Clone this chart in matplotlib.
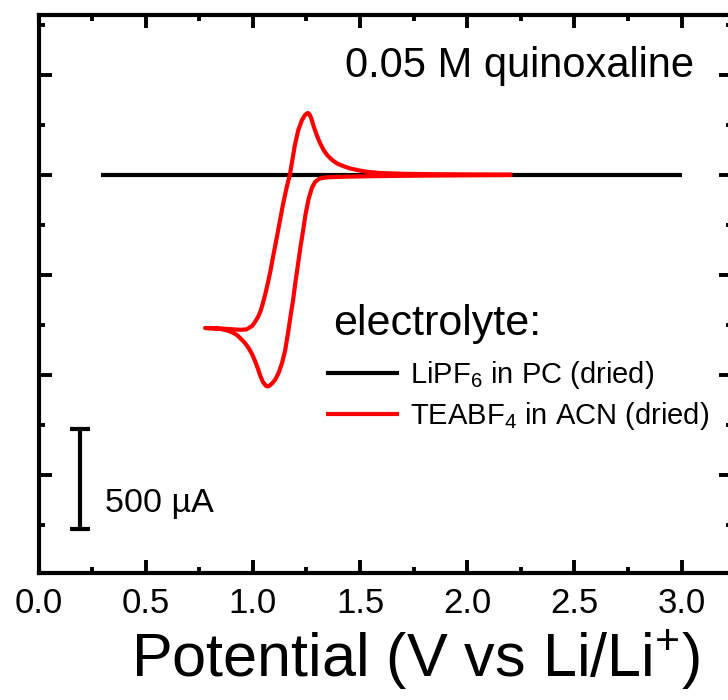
import matplotlib
matplotlib.use("Agg")
import matplotlib.pyplot as plt
from matplotlib.ticker import MultipleLocator, NullFormatter, FormatStrFormatter
from matplotlib.lines import Line2D

plt.rcParams['font.family'] = ['Liberation Sans', 'DejaVu Sans']
plt.rcParams['mathtext.fontset'] = 'custom'
plt.rcParams['mathtext.rm'] = 'Liberation Sans'
plt.rcParams['mathtext.it'] = 'Liberation Sans:italic'
plt.rcParams['mathtext.bf'] = 'Liberation Sans:bold'

# LiPF6 / PC background scan (V vs Li/Li+, current in mA)
lipf6_v = [0.29, 3.00]
lipf6_i = [0.0, 0.0]

# TEABF4 / ACN cyclic voltammogram: cathodic sweep then anodic return
teabf4_v = [2.20, 1.90, 1.70, 1.55, 1.45, 1.38, 1.34, 1.31, 1.29, 1.275, 1.26,
            1.245, 1.234, 1.222, 1.210, 1.198, 1.187, 1.175, 1.164, 1.150,
            1.136, 1.120, 1.103, 1.087, 1.075, 1.068, 1.060, 1.047, 1.035,
            1.024, 1.010, 0.996, 0.980, 0.963, 0.945, 0.926, 0.900, 0.879,
            0.850, 0.814, 0.777,
            0.800, 0.860, 0.900, 0.940, 0.970, 0.996, 1.010, 1.024, 1.036,
            1.047, 1.058, 1.070, 1.082, 1.093, 1.103, 1.112, 1.126, 1.140,
            1.156, 1.173, 1.185, 1.196, 1.212, 1.229, 1.242, 1.252, 1.257,
            1.263, 1.272, 1.280, 1.296, 1.313, 1.330, 1.346, 1.370, 1.392,
            1.420, 1.453, 1.490, 1.532, 1.593, 1.70, 1.85, 2.00, 2.20]
teabf4_i = [0.0, -0.002, -0.004, -0.006, -0.008, -0.010, -0.012, -0.018, -0.035,
            -0.065, -0.12, -0.20, -0.28, -0.36, -0.45, -0.54, -0.63, -0.71,
            -0.79, -0.88, -0.94, -0.99, -1.025, -1.045, -1.055, -1.057, -1.053,
            -1.035, -1.005, -0.97, -0.93, -0.895, -0.865, -0.84, -0.82, -0.80,
            -0.785, -0.777, -0.770, -0.766, -0.765,
            -0.766, -0.768, -0.771, -0.774, -0.772, -0.755, -0.735, -0.71,
            -0.68, -0.64, -0.595, -0.54, -0.48, -0.415, -0.36, -0.31, -0.23,
            -0.15, -0.07, 0.005, 0.08, 0.15, 0.225, 0.275, 0.298, 0.308, 0.310,
            0.305, 0.285, 0.255, 0.205, 0.16, 0.125, 0.10, 0.075, 0.058, 0.045,
            0.033, 0.024, 0.016, 0.010, 0.006, 0.004, 0.003, 0.002]

fig = plt.figure(figsize=(7.28, 7.00), dpi=100)
ax = fig.add_axes([38.5 / 728, 127 / 700, (732 - 38.5) / 728, (573 - 15) / 700])

ax.plot(lipf6_v, lipf6_i, color='black', lw=3.0, solid_capstyle='butt')
ax.plot(teabf4_v, teabf4_i, color='#ff0000', lw=3.0, solid_joinstyle='round')

ax.set_xlim(0, 3.235)
ax.set_ylim(-1.99, 0.80)

ax.xaxis.set_major_locator(MultipleLocator(0.5))
ax.xaxis.set_minor_locator(MultipleLocator(0.25))
ax.yaxis.set_major_locator(MultipleLocator(0.5))
ax.yaxis.set_minor_locator(MultipleLocator(0.25))
ax.yaxis.set_major_formatter(NullFormatter())
ax.xaxis.set_major_formatter(FormatStrFormatter('%.1f'))

ax.tick_params(which='both', direction='in', top=True, right=True, width=2.8)
ax.tick_params(which='major', length=9.5, labelsize=25, pad=10)
ax.tick_params(which='minor', length=4.5)
for s in ax.spines.values():
    s.set_linewidth(3.0)

ax.set_xlabel('Potential (V vs Li/Li$^{+}$)', fontsize=44)
ax.xaxis.set_label_coords(0.544, (573 - 677) / 558)
ax.xaxis.label.set_verticalalignment('baseline')

ax.text(1.43, 0.49, '0.05 M quinoxaline', fontsize=30, va='baseline', ha='left')

# 500 uA scale bar
ax.errorbar([0.193], [-1.52], yerr=[0.25], fmt='none', ecolor='black',
            elinewidth=3.0, capsize=7, capthick=3.0)
ax.text(0.31, -1.685, '500 µA', fontsize=24.5, va='baseline', ha='left')

# legend heading and entries
ax.text(1.374, -0.80, 'electrolyte:', fontsize=31, va='baseline', ha='left')
handles = [Line2D([], [], color='black', lw=3.0),
           Line2D([], [], color='#ff0000', lw=3.0)]
labels = ['LiPF$_6$ in PC (dried)', 'TEABF$_4$ in ACN (dried)']
leg = ax.legend(handles, labels, fontsize=21, frameon=False, loc='center left',
                bbox_to_anchor=(0.417, 0.318),
                handlelength=2.36, handletextpad=0.45, labelspacing=0.32,
                borderaxespad=0, borderpad=0)

fig.savefig('out.png', dpi=100)
